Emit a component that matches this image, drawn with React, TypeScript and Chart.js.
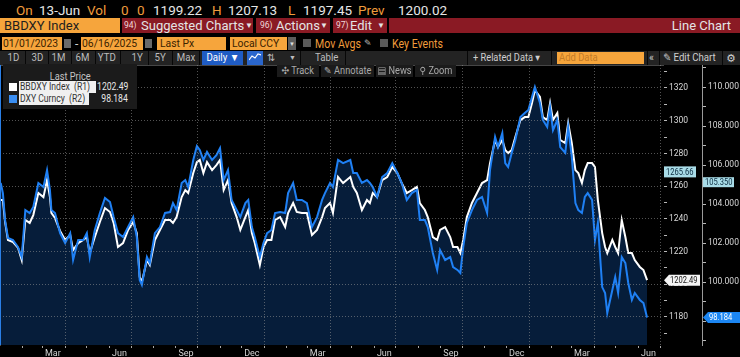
import React, { useEffect, useRef } from 'react';
import { Chart, registerables } from 'chart.js';

Chart.register(...registerables);

const FONT = "Roboto, 'Liberation Sans', 'DejaVu Sans', sans-serif";

// ---------------- DATA ----------------
const SERIES_1 = 'BBDXY Index';
const SERIES_2 = 'DXY Curncy';

const dates = [
  '2023-01-02', '2023-01-05', '2023-01-08', '2023-01-12', '2023-01-19', '2023-01-26', '2023-01-31',
  '2023-02-05', '2023-02-11', '2023-02-16', '2023-02-23', '2023-03-02', '2023-03-07', '2023-03-11',
  '2023-03-13', '2023-03-18', '2023-03-25', '2023-04-01', '2023-04-08', '2023-04-12', '2023-04-19',
  '2023-04-26', '2023-05-01', '2023-05-05', '2023-05-12', '2023-05-19', '2023-05-26', '2023-06-02',
  '2023-06-07', '2023-06-13', '2023-06-20', '2023-06-27', '2023-07-04', '2023-07-09', '2023-07-13',
  '2023-07-16', '2023-07-23', '2023-07-27', '2023-08-03', '2023-08-10', '2023-08-17', '2023-08-24',
  '2023-08-28', '2023-09-02', '2023-09-09', '2023-09-14', '2023-09-18', '2023-09-25', '2023-09-30',
  '2023-10-04', '2023-10-09', '2023-10-14', '2023-10-21', '2023-10-27', '2023-11-01', '2023-11-06',
  '2023-11-12', '2023-11-17', '2023-11-24', '2023-11-29', '2023-12-06', '2023-12-10', '2023-12-15',
  '2023-12-19', '2023-12-26', '2023-12-31', '2024-01-05', '2024-01-11', '2024-01-16', '2024-01-23',
  '2024-01-30', '2024-02-03', '2024-02-10', '2024-02-15', '2024-02-22', '2024-02-29', '2024-03-07',
  '2024-03-14', '2024-03-21', '2024-03-25', '2024-04-01', '2024-04-05', '2024-04-12', '2024-04-19',
  '2024-04-29', '2024-05-03', '2024-05-08', '2024-05-15', '2024-05-22', '2024-05-26', '2024-05-30',
  '2024-06-05', '2024-06-12', '2024-06-19', '2024-06-26', '2024-07-03', '2024-07-09', '2024-07-16',
  '2024-07-23', '2024-07-30', '2024-08-03', '2024-08-10', '2024-08-14', '2024-08-21', '2024-08-27',
  '2024-08-31', '2024-09-07', '2024-09-14', '2024-09-18', '2024-09-24', '2024-09-28', '2024-10-02',
  '2024-10-07', '2024-10-14', '2024-10-21', '2024-10-28', '2024-11-04', '2024-11-08', '2024-11-15',
  '2024-11-19', '2024-11-25', '2024-11-29', '2024-12-03', '2024-12-08', '2024-12-13', '2024-12-20',
  '2024-12-26', '2024-12-31', '2025-01-05', '2025-01-09', '2025-01-16', '2025-01-20', '2025-01-26',
  '2025-01-30', '2025-02-03', '2025-02-09', '2025-02-13', '2025-02-20', '2025-02-24', '2025-03-01',
  '2025-03-06', '2025-03-10', '2025-03-15', '2025-03-19', '2025-03-23', '2025-03-29', '2025-04-02',
  '2025-04-06', '2025-04-12', '2025-04-16', '2025-04-19', '2025-04-26', '2025-04-30', '2025-05-04',
  '2025-05-09', '2025-05-14', '2025-05-18', '2025-05-23', '2025-05-27', '2025-06-03', '2025-06-08',
  '2025-06-13',
];

const bbdxy = [
  1251.5, 1251.5, 1238.1, 1227.1, 1225.8, 1222.2, 1214.8,
  1239.3, 1237.5, 1242.3, 1255.8, 1253.3, 1263.7, 1253.3,
  1243.6, 1240.5, 1232.6, 1227.1, 1230.1, 1220.9, 1225.2,
  1227.1, 1228.9, 1219.1, 1228.9, 1238.1, 1246.6, 1244.2,
  1237.5, 1222.8, 1225.2, 1233.2, 1238.1, 1231.3, 1204.4,
  1201.4, 1214.8, 1211.8, 1227.1, 1233.2, 1239.3, 1239.3,
  1237.5, 1241.1, 1253.3, 1257.6, 1255.8, 1268.0, 1274.7,
  1276.0, 1268.0, 1274.7, 1269.8, 1272.9, 1276.0, 1257.6,
  1263.7, 1249.7, 1241.1, 1233.2, 1241.1, 1245.4, 1231.3,
  1225.2, 1211.8, 1222.8, 1227.1, 1227.1, 1239.3, 1241.1,
  1235.0, 1243.6, 1249.7, 1244.2, 1243.6, 1243.6, 1230.1,
  1233.2, 1241.1, 1246.6, 1249.7, 1243.6, 1265.6, 1261.9,
  1265.6, 1259.5, 1255.8, 1245.4, 1251.5, 1249.7, 1255.8,
  1253.3, 1263.7, 1265.6, 1271.7, 1268.0, 1261.9, 1255.8,
  1257.6, 1259.5, 1249.7, 1245.4, 1241.1, 1228.9, 1227.1,
  1233.2, 1235.0, 1228.9, 1222.8, 1222.8, 1219.1, 1227.1,
  1241.1, 1249.7, 1255.8, 1261.9, 1263.7, 1274.1, 1288.2,
  1283.9, 1288.2, 1282.1, 1280.2, 1282.1, 1290.0, 1300.4,
  1302.2, 1302.2, 1310.8, 1318.7, 1314.5, 1302.2, 1300.4,
  1310.8, 1300.4, 1304.7, 1288.2, 1286.3, 1298.6, 1286.3,
  1269.8, 1268.0, 1261.9, 1269.8, 1274.1, 1274.1, 1271.7,
  1251.5, 1231.3, 1222.8, 1219.1, 1227.1, 1222.8, 1219.1,
  1239.3, 1228.9, 1219.1, 1219.1, 1214.8, 1210.6, 1208.7,
  1202.49,
];

const dxy = [
  105.08, 104.56, 103.18, 102.26, 102.15, 101.79, 101.28,
  103.69, 103.54, 103.85, 105.08, 104.87, 105.74, 104.72,
  103.69, 103.54, 102.51, 102.0, 102.51, 101.13, 102.15,
  102.15, 102.51, 101.28, 102.67, 103.54, 104.31, 104.1,
  103.33, 102.51, 102.31, 102.82, 103.33, 102.31, 100.1,
  99.85, 101.28, 100.97, 102.51, 102.82, 103.54, 103.59,
  104.05, 103.69, 105.08, 105.23, 104.87, 106.26, 106.97,
  106.77, 106.26, 106.67, 106.26, 106.51, 106.87, 105.23,
  105.74, 104.21, 103.69, 103.33, 104.05, 104.21, 102.82,
  102.31, 101.28, 102.0, 102.51, 102.67, 103.54, 103.59,
  103.54, 104.56, 105.08, 104.21, 104.21, 104.05, 102.82,
  103.33, 104.21, 104.56, 105.08, 104.87, 106.26, 106.1,
  106.26, 105.59, 105.59, 105.08, 105.23, 105.08, 104.87,
  104.36, 105.38, 105.59, 106.1, 105.59, 105.08, 104.21,
  104.56, 104.72, 103.18, 103.18, 102.82, 101.49, 100.62,
  101.64, 101.13, 101.28, 100.77, 100.62, 100.46, 101.79,
  103.03, 103.69, 104.21, 104.36, 103.54, 105.74, 107.44,
  106.92, 107.64, 106.1, 105.9, 106.62, 107.28, 108.46,
  108.67, 108.82, 109.49, 110.0, 109.18, 108.31, 107.95,
  108.97, 107.79, 108.31, 106.92, 106.62, 107.95, 106.41,
  104.05, 103.69, 103.54, 104.36, 104.56, 104.21, 102.15,
  103.03, 99.74, 99.44, 98.41, 99.59, 100.26, 99.44,
  101.28, 100.97, 99.95, 99.08, 99.44, 99.08, 98.92,
  98.184,
];

// axis tick values / labels
const X_START = '2023-01-01';
const X_END = '2025-07-05';
const xLabelDates = [
  '2023-03-15', '2023-06-15', '2023-09-15', '2023-12-15', '2024-03-15',
  '2024-06-15', '2024-09-15', '2024-12-15', '2025-03-15', '2025-06-15',
];
const xLabelText = ['Mar', 'Jun', 'Sep', 'Dec', 'Mar', 'Jun', 'Sep', 'Dec', 'Mar', 'Jun'];
const monthTickDates = [
  '2023-02-01', '2023-03-01', '2023-04-01', '2023-05-01', '2023-06-01', '2023-07-01',
  '2023-08-01', '2023-09-01', '2023-10-01', '2023-11-01', '2023-12-01', '2024-01-01',
  '2024-02-01', '2024-03-01', '2024-04-01', '2024-05-01', '2024-06-01', '2024-07-01',
  '2024-08-01', '2024-09-01', '2024-10-01', '2024-11-01', '2024-12-01', '2025-01-01',
  '2025-02-01', '2025-03-01', '2025-04-01', '2025-05-01', '2025-06-01', '2025-07-01',
];
const r1Ticks = [1170, 1180, 1190, 1200, 1210, 1220, 1230, 1240, 1250, 1260, 1270, 1280, 1290, 1300, 1310, 1320, 1330];
const r1Labeled = [1180, 1200, 1220, 1240, 1260, 1280, 1300, 1320];
const r2Ticks = [97, 98, 99, 100, 101, 102, 103, 104, 105, 106, 107, 108, 109, 110, 111];
const r2Labeled = [98, 100, 102, 104, 106, 108, 110];
const R1_MIN = 1162.88;
const R1_MAX = 1334.06;
const R2_MIN = 96.77;
const R2_MAX = 111.13;
const r1Marker = 1265.66;
const r2Marker = 105.35;

// ---------------- helpers ----------------
const DAY0 = Date.parse(X_START);
const dayOf = (s: string) => Math.round((Date.parse(s) - DAY0) / 86400000);

const xLabelMap = new Map<number, string>();
xLabelDates.forEach((d, i) => xLabelMap.set(dayOf(d), xLabelText[i]));
const monthSet = new Set<number>(monthTickDates.map(dayOf));
const quarterSet = new Set<number>(
  monthTickDates.filter((d) => ['01', '04', '07', '10'].includes(d.slice(5, 7))).map(dayOf)
);
const xTickValues = [...monthSet, ...xLabelMap.keys()].sort((a, b) => a - b);
const r1LabelSet = new Set(r1Labeled);
const r2LabelSet = new Set(r2Labeled);

const GRID = 'rgba(150,150,150,0.55)';
const CLEAR = 'rgba(0,0,0,0)';
const FILL = '#061d3a';
const BLUE = '#1f80f4';

function drawTag(ctx: any, x: number, y: number, w: number, h: number, text: string, bg: string, fg: string, arrow: boolean) {
  ctx.save();
  ctx.fillStyle = bg;
  ctx.beginPath();
  if (arrow) {
    ctx.moveTo(x, y);
    ctx.lineTo(x + 5, y - h / 2);
    ctx.lineTo(x + w, y - h / 2);
    ctx.lineTo(x + w, y + h / 2);
    ctx.lineTo(x + 5, y + h / 2);
    ctx.closePath();
  } else {
    ctx.rect(x, y - h / 2, w, h);
  }
  ctx.fill();
  ctx.fillStyle = fg;
  ctx.font = `9px ${FONT}`;
  ctx.textBaseline = 'middle';
  ctx.textAlign = 'left';
  ctx.translate(x + (arrow ? 6 : 2), y + 0.5);
  ctx.scale(0.84, 1);
  ctx.fillText(text, 0, 0);
  ctx.restore();
}

const tagPlugin = {
  id: 'axisTags',
  afterDraw(chart: any) {
    const { ctx } = chart;
    const r1 = chart.scales.r1;
    const r2 = chart.scales.r2;
    drawTag(ctx, r1.left + 1, r1.getPixelForValue(r1Marker) - 5, 32, 11, r1Marker.toFixed(2), '#a9dce8', '#0c2c40', false);
    drawTag(ctx, r2.left + 1, r2.getPixelForValue(r2Marker) + 4.5, 31, 10, r2Marker.toFixed(3), '#a9dce8', '#0c2c40', false);
    const l1 = bbdxy[bbdxy.length - 1];
    const l2 = dxy[dxy.length - 1];
    drawTag(ctx, r1.left + 1, r1.getPixelForValue(l1), 36, 11, l1.toFixed(2), '#f4f4f4', '#111111', true);
    drawTag(ctx, r2.left + 1, r2.getPixelForValue(l2), 37, 11, l2.toFixed(3), '#1c86f2', '#ffffff', true);
  },
};

// ---------------- UI helpers ----------------
type BoxProps = {
  l: number; t: number; w?: number; h?: number; bg?: string; c?: string; s?: number;
  center?: boolean; right?: boolean; pl?: number; k?: number; children?: any; st?: any;
};
function B({ l, t, w, h, bg, c, s, center, right, pl, k, children, st }: BoxProps) {
  const origin = center ? 'center' : right ? 'right' : 'left';
  return (
    <div
      style={{
        position: 'absolute', left: l, top: t, width: w, height: h, background: bg,
        color: c || '#e4e4e4', fontSize: s || 12, fontFamily: FONT, lineHeight: 1,
        display: 'flex', alignItems: 'center', whiteSpace: 'pre',
        justifyContent: center ? 'center' : right ? 'flex-end' : 'flex-start',
        paddingLeft: pl || 0, boxSizing: 'border-box', overflow: 'visible', ...st,
      }}
    >
      {children !== undefined && (
        <span style={{ display: 'inline-block', transform: `scaleX(${k || 1})`, transformOrigin: origin }}>{children}</span>
      )}
    </div>
  );
}

const AMBER = '#f09c3c';
const TXT = '#e6e6e6';
const ORANGE = '#f6a53c';
const RED = '#8a1a24';
const BOXTXT = '#3a2200';

function Header() {
  const row1: [string, number, string][] = [
    ['On', 16, AMBER], ['13-Jun', 39, TXT], ['Vol', 87, AMBER], ['0', 121, AMBER], ['0', 137, AMBER],
    ['1199.22', 153, TXT], ['H', 212, AMBER], ['1207.13', 228, TXT], ['L', 288, AMBER],
    ['1197.45', 303, TXT], ['Prev', 358, AMBER], ['1200.02', 398, TXT],
  ];
  const periods: [string, number][] = [
    ['1D', 13], ['3D', 37], ['1M', 59], ['6M', 83], ['YTD', 107], ['1Y', 137], ['5Y', 160], ['Max', 186],
  ];
  const seps = [25, 48, 71, 95, 120, 148, 172, 199, 300, 345, 467, 551, 647, 659, 722];
  return (
    <>
      {row1.map(([t, x, c], i) => (
        <B key={'r1' + i} l={x} t={3} h={15} c={c} s={13.5}>{t}</B>
      ))}
      {/* row 2 */}
      <B l={0} t={18} w={120} h={15} bg={ORANGE} c="#1e1e1e" s={13} pl={4}>BBDXY Index</B>
      <B l={122} t={18} w={131} h={15} bg={RED} />
      <B l={256} t={18} w={74} h={15} bg={RED} />
      <B l={333} t={18} w={54} h={15} bg={RED} />
      <B l={389} t={18} w={351} h={15} bg={RED} />
      <B l={124} t={18} h={15} s={8.5} c="#f0d8d8">94)</B>
      <B l={141} t={18} h={15} s={13}>Suggested Charts</B>
      <B l={245} t={18} h={15} s={8}>▼</B>
      <B l={260} t={18} h={15} s={8.5} c="#f0d8d8">96)</B>
      <B l={276} t={18} h={15} s={13}>Actions</B>
      <B l={320} t={18} h={15} s={8}>▼</B>
      <B l={336} t={18} h={15} s={8.5} c="#f0d8d8">97)</B>
      <B l={350} t={18} h={15} s={13}>Edit</B>
      <B l={377} t={18} h={15} s={8}>▼</B>
      <B l={600} t={18} w={131} h={15} s={13} right>Line Chart</B>
      {/* row 3 */}
      <B l={2} t={37} w={60} h={13} bg={ORANGE} c={BOXTXT} s={11.5} pl={1} k={0.9}>01/01/2023</B>
      <B l={64} t={39} w={7} h={9} bg="#6a6a6a" />
      <B l={75} t={37} h={13} s={12} c="#cfcfcf">-</B>
      <B l={81} t={37} w={62} h={13} bg={ORANGE} c={BOXTXT} s={11.5} pl={1} k={0.9}>06/16/2025</B>
      <B l={145} t={39} w={7} h={9} bg="#6a6a6a" />
      <B l={157} t={37} w={69} h={13} bg={ORANGE} c={BOXTXT} s={11.5} pl={3} k={0.9}>Last Px</B>
      <B l={230} t={37} w={57} h={13} bg={ORANGE} c={BOXTXT} s={11.5} pl={2} k={0.9}>Local CCY</B>
      <B l={288} t={37} w={8} h={13} bg="#5c5c5c" c="#dddddd" s={6} center>▼</B>
      <B l={303} t={39} w={8} h={8} bg="#5a5a5a" />
      <B l={315} t={37} h={13} s={12} c={AMBER} k={0.88}>Mov Avgs</B>
      <B l={364} t={37} h={13} s={9} c="#bbbbbb">✎</B>
      <B l={380} t={39} w={8} h={8} bg="#5a5a5a" />
      <B l={392} t={37} h={13} s={12} c={AMBER} k={0.88}>Key Events</B>
      {/* row 4 */}
      <B l={0} t={51} w={740} h={14} bg="#232323" />
      {seps.map((x, i) => (
        <div key={'sp' + i} style={{ position: 'absolute', left: x, top: 51, width: 1, height: 14, background: '#070707' }} />
      ))}
      {periods.map(([t, c], i) => (
        <B key={'p' + i} l={c - 12} t={51} w={24} h={14} s={10.5} c="#bdbdbd" center k={0.92}>{t}</B>
      ))}
      <B l={202} t={51} w={41} h={14} bg="#1f5cc4" s={10.5} c="#ffffff" center k={0.92}>Daily ▼</B>
      <B l={247} t={51} w={16} h={14} bg="#2a66cc" center>
        <svg width="12" height="10" viewBox="0 0 12 10">
          <polyline points="0,8 3,4 6,6 9,2 12,3" fill="none" stroke="#ffffff" strokeWidth="1.2" />
        </svg>
      </B>
      <B l={267} t={51} h={14} s={10} c="#bdbdbd">⇅</B>
      <B l={289} t={51} h={14} s={7} c="#bdbdbd">▼</B>
      <B l={312} t={51} w={30} h={14} s={10.5} c="#bdbdbd" center k={0.92}>Table</B>
      <B l={473} t={51} h={14} s={10.5} c="#cfcfcf" k={0.88}>+ Related Data ▾</B>
      <B l={557} t={52} w={87} h={12} bg={ORANGE} c="#c47b26" s={10.5} pl={2} k={0.9}>Add Data</B>
      <B l={649} t={51} h={14} s={10.5} c="#cfcfcf">«</B>
      <B l={663} t={51} h={14} s={10.5} c="#cfcfcf" k={0.92}>✎ Edit Chart</B>
      <B l={726} t={51} h={14} s={11} c="#cfcfcf">⚙</B>
    </>
  );
}

function Overlays() {
  const tools: [string, number, number][] = [
    ['✣ Track', 277, 42], ['✎ Annotate', 321, 53], ['▤ News', 376, 37], ['⚲ Zoom', 415, 41],
  ];
  return (
    <>
      <div style={{ position: 'absolute', left: 0, top: 65, width: 1, height: 280, background: '#2a7fe6', zIndex: 3 }} />
      {tools.map(([t, x, w], i) => (
        <B key={'tl' + i} l={x} t={65} w={w} h={12} bg="#1b1b1b" c="#aaaaaa" s={10} center k={0.92} st={{ zIndex: 3 }}>{t}</B>
      ))}
      {/* legend */}
      <div style={{ position: 'absolute', left: 3, top: 64, width: 134, height: 45, background: '#1b1b1b', zIndex: 3 }} />
      <B l={3} t={71} w={134} h={11} s={10} c="#c4c4c4" center k={0.92} st={{ zIndex: 4 }}>Last Price</B>
      <div style={{ position: 'absolute', left: 9, top: 83, width: 8, height: 8, background: '#ffffff', zIndex: 4 }} />
      <B l={19} t={81} w={77} h={12} bg="#f0f0f0" c="#333333" s={10} pl={1} k={0.86} st={{ zIndex: 4 }}>{SERIES_1 + '  (R1)'}</B>
      <B l={97} t={81} w={31} h={12} c="#e8e8e8" s={10} right k={0.86} st={{ zIndex: 4 }}>{bbdxy[bbdxy.length - 1].toFixed(2)}</B>
      <div style={{ position: 'absolute', left: 9, top: 95, width: 8, height: 8, background: '#3a8ef2', zIndex: 4 }} />
      <B l={19} t={93} w={70} h={12} bg="#f0f0f0" c="#333333" s={10} pl={1} k={0.86} st={{ zIndex: 4 }}>{SERIES_2 + '  (R2)'}</B>
      <B l={90} t={93} w={38} h={12} c="#e8e8e8" s={10} right k={0.86} st={{ zIndex: 4 }}>{dxy[dxy.length - 1].toFixed(3)}</B>
    </>
  );
}

function BloombergChart() {
  const ref = useRef<HTMLCanvasElement | null>(null);
  useEffect(() => {
    if (!ref.current) return;
    Chart.defaults.font.family = FONT;
    const zeroPad = (s: any) => {
      s.paddingTop = 0; s.paddingBottom = 0; s.paddingLeft = 0; s.paddingRight = 0;
    };
    const chart = new Chart(ref.current, {
      type: 'line',
      data: {
        datasets: [
          {
            label: SERIES_2,
            data: dates.map((d, i) => ({ x: dayOf(d), y: dxy[i] })),
            xAxisID: 'x', yAxisID: 'r2',
            borderColor: BLUE, borderWidth: 2, backgroundColor: FILL,
            fill: 'start', pointRadius: 0, tension: 0, order: 0,
          },
          {
            label: SERIES_1,
            data: dates.map((d, i) => ({ x: dayOf(d), y: bbdxy[i] })),
            xAxisID: 'x', yAxisID: 'r1',
            borderColor: '#ffffff', borderWidth: 2, backgroundColor: FILL,
            fill: 'start', pointRadius: 0, tension: 0, order: 1,
          },
        ],
      },
      options: {
        animation: false,
        responsive: false,
        events: [],
        layout: { padding: 0, autoPadding: false },
        plugins: {
          legend: { display: false },
          tooltip: { enabled: false },
          filler: { drawTime: 'beforeDatasetsDraw' },
        },
        scales: {
          x: {
            type: 'linear', position: 'bottom', weight: 0,
            min: dayOf(X_START), max: dayOf(X_END), bounds: 'data',
            afterBuildTicks: (s: any) => { s.ticks = xTickValues.map((v) => ({ value: v })); },
            afterFit: (s: any) => { s.height = 12; zeroPad(s); },
            ticks: {
              autoSkip: false, maxRotation: 0, minRotation: 0, padding: 0,
              color: '#d2d2d2', font: { family: FONT, size: 9 },
              callback: (v: any) => xLabelMap.get(v) ?? '',
            },
            grid: {
              z: 1, lineWidth: 1, tickLength: 3,
              color: (c: any) => (c.tick && quarterSet.has(c.tick.value) ? GRID : CLEAR),
              tickColor: (c: any) => (c.tick && monthSet.has(c.tick.value) ? '#a8a8a8' : CLEAR),
            },
            border: { display: true, color: '#8c8c8c', width: 1, dash: [1, 2] },
          },
          r1: {
            type: 'linear', position: 'right', weight: 1,
            min: R1_MIN, max: R1_MAX, bounds: 'data',
            afterBuildTicks: (s: any) => { s.ticks = r1Ticks.map((v) => ({ value: v })); },
            afterFit: (s: any) => { s.width = 39; zeroPad(s); },
            ticks: {
              padding: 2, color: '#d8d8d8', font: { family: FONT, size: 8.5 },
              callback: (v: any) => (r1LabelSet.has(v) ? String(v) : ''),
            },
            grid: {
              z: 1, lineWidth: 1, tickLength: 4,
              color: (c: any) => (c.tick && r1LabelSet.has(c.tick.value) ? GRID : CLEAR),
              tickColor: '#b8b8b8',
            },
            border: { display: true, color: '#9a9a9a', width: 1, dash: [1, 2] },
          },
          r2: {
            type: 'linear', position: 'right', weight: 2,
            min: R2_MIN, max: R2_MAX, bounds: 'data',
            afterBuildTicks: (s: any) => { s.ticks = r2Ticks.map((v) => ({ value: v })); },
            afterFit: (s: any) => { s.width = 38; zeroPad(s); },
            ticks: {
              padding: 2, color: '#d8d8d8', font: { family: FONT, size: 8.5 },
              callback: (v: any) => (r2LabelSet.has(v) ? Number(v).toFixed(3) : ''),
            },
            grid: { drawOnChartArea: false, tickLength: 4, tickColor: '#b8b8b8' },
            border: { display: true, color: '#9a9a9a', width: 1 },
          },
        },
      },
      plugins: [tagPlugin],
    } as any);
    return () => chart.destroy();
  }, []);
  return (
    <div style={{ position: 'absolute', left: 0, top: 65, width: 740, height: 292 }}>
      <canvas ref={ref} width={740} height={292} style={{ width: 740, height: 292, display: 'block' }} />
    </div>
  );
}

export default function App() {
  useEffect(() => {
    document.body.style.margin = '0';
    document.body.style.background = '#000';
  }, []);
  return (
    <div style={{ position: 'fixed', left: 0, top: 0, width: 740, height: 357, background: '#000', overflow: 'hidden' }}>
      <BloombergChart />
      <Header />
      <Overlays />
    </div>
  );
}
